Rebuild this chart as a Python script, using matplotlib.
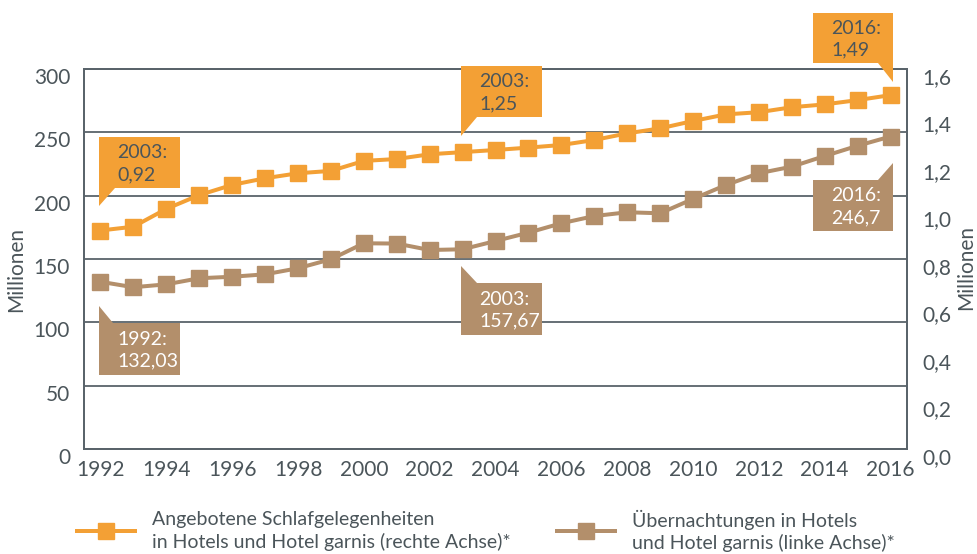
import matplotlib
matplotlib.use('Agg')
import matplotlib.pyplot as plt
from matplotlib.patches import Polygon
from matplotlib.lines import Line2D
import matplotlib.transforms as mtransforms

plt.rcParams['font.family'] = ['Lato', 'DejaVu Sans']

# ---------------- data ----------------
years = list(range(1992, 2017))
beds = [0.92, 0.936, 1.011, 1.069, 1.112, 1.140, 1.161, 1.171, 1.213, 1.221,
        1.241, 1.25, 1.259, 1.269, 1.280, 1.301, 1.329, 1.350, 1.381, 1.409,
        1.418, 1.439, 1.451, 1.469, 1.49]
nights = [132.03, 127.7, 130.0, 134.8, 136.0, 137.9, 142.7, 149.8, 162.4, 162.2,
          157.1, 157.67, 164.2, 170.8, 178.2, 183.9, 186.9, 186.1, 197.4, 208.4,
          217.7, 222.9, 231.3, 239.4, 246.7]
left_ticks = [0, 50, 100, 150, 200, 250, 300]
right_ticks = [0.0, 0.2, 0.4, 0.6, 0.8, 1.0, 1.2, 1.4, 1.6]
right_tick_labels = ['0,0', '0,2', '0,4', '0,6', '0,8', '1,0', '1,2', '1,4', '1,6']
x_ticks = list(range(1992, 2017, 2))
beds_labels = ['2003:\n0,92', '2003:\n1,25', '2016:\n1,49']
nights_labels = ['1992:\n132,03', '2003:\n157,67', '2016:\n246,7']
legend_beds = 'Angebotene Schlafgelegenheiten\nin Hotels und Hotel garnis (rechte Achse)*'
legend_nights = 'Übernachtungen in Hotels\nund Hotel garnis (linke Achse)*'
axis_label = 'Millionen'

# ---------------- style ----------------
ORANGE = '#f3a035'
BROWN = '#b38f6b'
TXT = '#4b555a'
GRID = '#59636a'
W, H = 977, 554

fig = plt.figure(figsize=(W / 100, H / 100), dpi=100)
pix = mtransforms.Affine2D().scale(1 / W, -1 / H).translate(0, 1) + fig.transFigure

L, R, T, B = 84, 907, 69, 449
ax = fig.add_axes([L / W, 1 - B / H, (R - L) / W, (B - T) / H])
ax2 = ax.twinx()

ax.set_xlim(1991.5, 2016.5)
ax.set_ylim(0, 300)
ax2.set_ylim(0, 1.6)

ax.set_yticks(left_ticks)
ax.set_yticklabels([str(t) for t in left_ticks])
ax2.set_yticks(right_ticks)
ax2.set_yticklabels(right_tick_labels)
ax.set_xticks(x_ticks)
ax.set_xticklabels([str(t) for t in x_ticks])

ax.grid(axis='y', color=GRID, lw=1.3)
ax.set_axisbelow(True)
for a in (ax, ax2):
    for s in a.spines.values():
        s.set_color(GRID)
        s.set_linewidth(1.3)
    a.tick_params(length=0, labelsize=15, colors=TXT)
ax.tick_params(axis='y', pad=10)
ax2.tick_params(axis='y', pad=11)
ax.tick_params(axis='x', pad=8)

off = mtransforms.ScaledTranslation(0, -7 / 100, fig.dpi_scale_trans)
for lab in ax.get_yticklabels() + ax2.get_yticklabels():
    lab.set_transform(lab.get_transform() + off)

lw = 4 * 0.72
ax.plot(years, nights, color=BROWN, lw=lw, marker='s', ms=12, zorder=3)
ax2.plot(years, beds, color=ORANGE, lw=lw, marker='s', ms=12, zorder=3)

fig.text(16 / W, 1 - 270 / H, axis_label, rotation=90, ha='center', va='center',
         fontsize=15, color=TXT)
fig.text(966 / W, 1 - 268 / H, axis_label, rotation=90, ha='center', va='center',
         fontsize=15, color=TXT)

# ---------------- callouts ----------------
callouts = [
    ([(99, 137), (180, 137), (180, 188), (115, 188), (99, 206)], (99, 137, 188), ORANGE, TXT, beds_labels[0]),
    ([(461, 66), (542, 66), (542, 117), (477, 117), (461, 136)], (461, 66, 117), ORANGE, TXT, beds_labels[1]),
    ([(813, 13), (893, 13), (893, 82), (878, 63), (813, 63)], (813, 13, 63), ORANGE, TXT, beds_labels[2]),
    ([(99, 306), (113, 323), (180, 323), (180, 375), (99, 375)], (99, 323, 375), BROWN, 'white', nights_labels[0]),
    ([(461, 266), (477, 283), (542, 283), (542, 335), (461, 335)], (461, 283, 335), BROWN, 'white', nights_labels[1]),
    ([(813, 180), (878, 180), (893, 163), (893, 231), (813, 231)], (813, 180, 231), BROWN, 'white', nights_labels[2]),
]
for poly, (bx, by0, by1), fc, tc, txt in callouts:
    fig.add_artist(Polygon(poly, closed=True, transform=pix, facecolor=fc,
                           edgecolor='none', zorder=5))
    fig.text(bx + 18, (by0 + by1) / 2 + 1, txt, transform=pix, ha='left', va='center',
             fontsize=14, color=tc, linespacing=1.35, zorder=6)

# ---------------- legend ----------------
for x0, col, txt in [(77, ORANGE, legend_beds), (557, BROWN, legend_nights)]:
    fig.add_artist(Line2D([x0, x0 + 29, x0 + 58], [531, 531, 531], transform=pix,
                          color=col, lw=lw, marker='s', ms=12, markevery=[1]))
    fig.text(x0 + 75, 531, txt, transform=pix, ha='left', va='center',
             fontsize=14, color=TXT, linespacing=1.3)

fig.savefig('out.png', dpi=100)
